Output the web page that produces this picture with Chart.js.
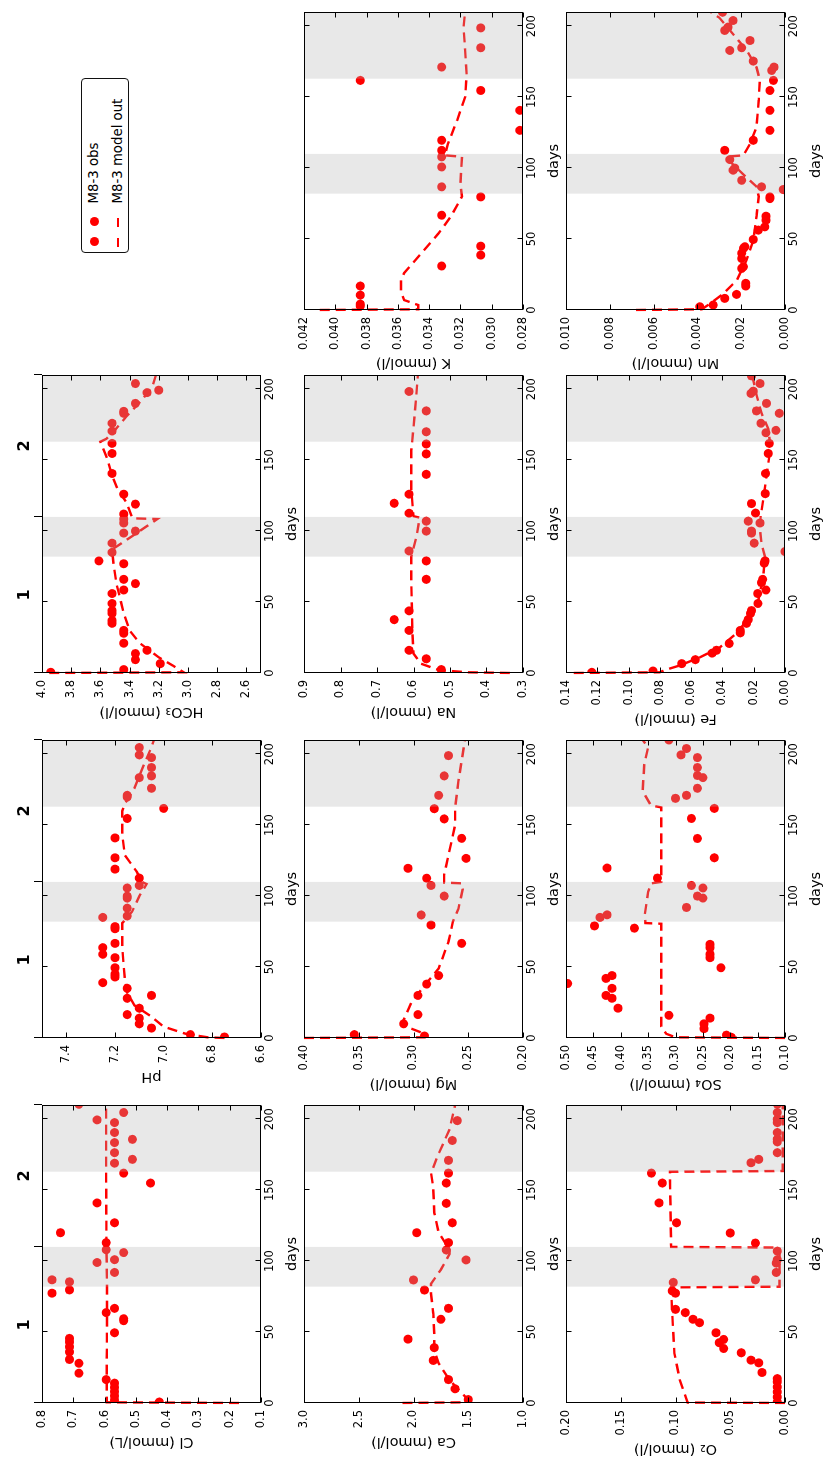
<!DOCTYPE html>
<html>
<head>
<meta charset="utf-8">
<title>M8-3 observations and model output</title>
<script src="https://cdn.jsdelivr.net/npm/chart.js@4.4.1/dist/chart.umd.min.js"></script>
<style>
  html, body { margin: 0; padding: 0; background: #fff; overflow: hidden; }
  /* the figure is laid out landscape and turned a quarter turn to fit the portrait page */
  #page {
    position: absolute; left: 0; top: 0;
    width: 1464px; height: 823px;
    transform-origin: 0 0;
    transform: translateY(1464px) rotate(-90deg);
    background: #fff;
  }
  #page canvas { position: absolute; }
  #legend {
    position: absolute; left: 1211px; top: 81px;
    width: 175px; height: 48px; box-sizing: border-box;
    border: 1px solid #111; border-radius: 4px; background: #fff;
    font-family: 'DejaVu Sans', sans-serif; font-size: 13.3px; color: #000;
  }
  #legend .dot { position: absolute; width: 9px; height: 9px; border-radius: 50%; background: #ff0000; }
  #legend .dash { position: absolute; width: 9px; height: 2.4px; background: #ff0000; }
  #legend .lbl { position: absolute; left: 48.5px; height: 16px; line-height: 16px; white-space: nowrap; }
</style>
</head>
<body>
<div id="page">
  <div id="legend">
    <span class="dot" style="left:5.5px; top:7.9px"></span>
    <span class="dot" style="left:25.5px; top:7.9px"></span>
    <span class="lbl" style="top:4.4px">M8-3 obs</span>
    <span class="dash" style="left:5px; top:35px"></span>
    <span class="dash" style="left:25px; top:35px"></span>
    <span class="lbl" style="top:28px">M8-3 model out</span>
  </div>
</div>
<script>
// ---------- shared time axis ----------
const dayTicks = ['0', '50', '100', '150', '200'];
const dayRange = [0, 210];
const bandStart = [82, 163];
const bandEnd = [110, 210];
const stageEdges = [0, 110, 210];
const stageMid = [55, 160];
const stageNames = ['1', '2'];

// ---------- Cl ----------
const clTicks = ['0.1', '0.2', '0.3', '0.4', '0.5', '0.6', '0.7', '0.8'];
const clRange = [0.1, 0.8];
const clObsDay = [0.7, 2, 5, 8, 11, 14, 16.5, 21, 28, 30.7, 36, 39.6, 43, 45.5, 49.5, 58, 59.4, 63.7, 66.7, 77.4, 79.7, 85.4, 86.8, 92, 99, 101, 106, 108, 113, 120, 127, 141, 155, 162, 169, 171.7, 176.4, 183.5, 185.8, 190.6, 197.6, 199.5, 204.7, 210.5];
const clObsVal = [0.425, 0.568, 0.568, 0.568, 0.568, 0.568, 0.595, 0.682, 0.682, 0.712, 0.712, 0.712, 0.712, 0.712, 0.568, 0.539, 0.539, 0.595, 0.568, 0.768, 0.712, 0.712, 0.768, 0.568, 0.624, 0.568, 0.539, 0.595, 0.595, 0.741, 0.568, 0.624, 0.453, 0.539, 0.568, 0.511, 0.568, 0.568, 0.511, 0.568, 0.568, 0.624, 0.539, 0.682];
const clModDay = [0, 0.5, 20, 80, 110, 160, 210];
const clModVal = [0.17, 0.593, 0.593, 0.592, 0.594, 0.595, 0.595];

// ---------- pH ----------
const phTicks = ['6.6', '6.8', '7.0', '7.2', '7.4'];
const phRange = [6.6, 7.5];
const phObsDay = [0.7, 2.4, 7, 10, 14, 16.5, 21, 28, 30, 35, 39, 43, 45, 49.5, 56.6, 59, 63.7, 66.7, 77, 78.5, 85, 86, 91.5, 98.6, 100, 105.7, 107.5, 112.7, 119, 127, 141, 154.7, 161.8, 169.8, 171, 176, 183.5, 184.7, 190.6, 197.6, 199.5, 204.7];
const phObsVal = [6.75, 6.89, 7.05, 7.10, 7.10, 7.15, 7.10, 7.15, 7.05, 7.15, 7.25, 7.20, 7.20, 7.20, 7.20, 7.25, 7.25, 7.20, 7.20, 7.20, 7.25, 7.15, 7.15, 7.15, 7.15, 7.15, 7.10, 7.10, 7.20, 7.20, 7.20, 7.15, 7.00, 7.15, 7.15, 7.05, 7.10, 7.05, 7.05, 7.05, 7.10, 7.10];
const phModDay = [0, 0.5, 3, 8, 15, 23, 32, 42, 63, 81, 89, 100, 108.5, 110, 117, 129, 143, 160, 165, 176, 193, 205, 210];
const phModVal = [6.75, 6.82, 6.91, 7.00, 7.05, 7.12, 7.15, 7.16, 7.17, 7.17, 7.13, 7.10, 7.07, 7.09, 7.11, 7.16, 7.17, 7.17, 7.16, 7.12, 7.08, 7.05, 7.04];

// ---------- HCO3 ----------
const hco3Ticks = ['2.6', '2.8', '3.0', '3.2', '3.4', '3.6', '3.8', '4.0'];
const hco3Range = [2.5, 4.0];
const hco3ObsDay = [0.5, 2.4, 6.6, 9.4, 13.7, 16, 21, 28, 30, 35, 37, 42, 44, 49, 56, 58.5, 63, 66, 77, 79, 85, 91.5, 98.6, 100, 105.7, 108.5, 112, 119, 126, 140.6, 154.7, 161.8, 170.5, 176, 183, 184.4, 190, 197.6, 199.3, 204];
const hco3ObsVal = [3.94, 3.44, 3.19, 3.36, 3.36, 3.28, 3.44, 3.44, 3.44, 3.52, 3.52, 3.52, 3.52, 3.52, 3.52, 3.44, 3.36, 3.44, 3.44, 3.61, 3.52, 3.52, 3.44, 3.36, 3.44, 3.44, 3.44, 3.36, 3.44, 3.52, 3.52, 3.52, 3.52, 3.52, 3.44, 3.44, 3.36, 3.28, 3.20, 3.36];
const hco3ModDay = [0, 0.5, 5, 11, 21, 30, 42, 63, 77, 87, 98, 108.5, 109, 120, 129, 139, 150, 163, 165, 170, 181, 193, 203, 210];
const hco3ModVal = [3.95, 3.03, 3.10, 3.20, 3.33, 3.40, 3.44, 3.49, 3.51, 3.52, 3.36, 3.21, 3.38, 3.42, 3.48, 3.52, 3.55, 3.60, 3.56, 3.51, 3.42, 3.31, 3.24, 3.22];

// ---------- Ca ----------
const caTicks = ['1.0', '1.5', '2.0', '2.5', '3.0'];
const caRange = [1.0, 3.0];
const caObsDay = [2.4, 10, 16.5, 30, 39, 45, 59, 66.7, 79.6, 86.7, 100.8, 107.8, 113, 120, 127, 140.7, 155, 162, 171, 185, 199];
const caObsVal = [1.50, 1.62, 1.68, 1.82, 1.81, 2.05, 1.75, 1.68, 1.90, 2.00, 1.52, 1.70, 1.68, 1.97, 1.645, 1.70, 1.70, 1.68, 1.68, 1.645, 1.60];
const caModDay = [0, 0.5, 2, 8, 16, 28, 37, 49, 63, 77, 84, 94, 105, 108, 120, 134, 152, 162, 174, 193, 210];
const caModVal = [2.10, 1.52, 1.50, 1.57, 1.67, 1.77, 1.81, 1.81, 1.82, 1.84, 1.84, 1.75, 1.67, 1.67, 1.77, 1.81, 1.82, 1.84, 1.78, 1.67, 1.62];

// ---------- Mg ----------
const mgTicks = ['0.20', '0.25', '0.30', '0.35', '0.40'];
const mgRange = [0.20, 0.40];
const mgObsDay = [1.4, 2.4, 10, 16.5, 30, 38, 44, 66.7, 79.6, 86.7, 100, 107.5, 112.6, 119.6, 126.6, 140.7, 154.4, 161.6, 171, 184.7, 199];
const mgObsVal = [0.290, 0.354, 0.309, 0.296, 0.296, 0.288, 0.277, 0.256, 0.284, 0.293, 0.272, 0.284, 0.288, 0.305, 0.252, 0.256, 0.272, 0.281, 0.277, 0.272, 0.268];
const mgModDay = [0, 0.5, 3, 6.6, 11, 25, 37, 49, 68, 82, 91, 105, 109, 109.5, 115, 129, 150, 162, 181, 210];
const mgModVal = [0.400, 0.290, 0.290, 0.302, 0.310, 0.302, 0.290, 0.277, 0.268, 0.264, 0.259, 0.255, 0.256, 0.272, 0.272, 0.268, 0.262, 0.262, 0.259, 0.253];

// ---------- Na ----------
const naTicks = ['0.3', '0.4', '0.5', '0.6', '0.7', '0.8', '0.9'];
const naRange = [0.3, 0.9];
const naObsDay = [2.4, 10, 16, 30, 37.6, 43.8, 66, 79, 86, 100, 107, 112.6, 119.6, 126, 140, 154.4, 161.4, 170, 184.7, 198.4];
const naObsVal = [0.524, 0.565, 0.612, 0.612, 0.653, 0.612, 0.565, 0.565, 0.612, 0.565, 0.565, 0.612, 0.653, 0.612, 0.565, 0.565, 0.565, 0.565, 0.565, 0.612];
const naModDay = [0, 0.5, 2, 6.6, 13.7, 28, 63, 82, 96, 109.5, 110.5, 129, 157, 181, 210];
const naModVal = [0.336, 0.45, 0.53, 0.58, 0.600, 0.603, 0.606, 0.606, 0.592, 0.583, 0.600, 0.606, 0.606, 0.597, 0.588];

// ---------- K ----------
const kTicks = ['0.028', '0.030', '0.032', '0.034', '0.036', '0.038', '0.040', '0.042'];
const kRange = [0.028, 0.042];
const kObsDay = [2.8, 4.2, 10.5, 16.9, 31, 38.7, 45, 66.8, 79.7, 86.8, 100.8, 107.9, 112.5, 119.6, 126.6, 140.7, 154.7, 161.8, 171.2, 184.8, 198.8];
const kObsVal = [0.0384, 0.0384, 0.0384, 0.0384, 0.0332, 0.0307, 0.0307, 0.0332, 0.0307, 0.0332, 0.0332, 0.0332, 0.0332, 0.0332, 0.0282, 0.0282, 0.0307, 0.0384, 0.0332, 0.0307, 0.0307];
const kModDay = [0, 0.5, 3.5, 7, 13, 21, 26, 40, 54, 66, 80, 89, 108, 109, 117, 134, 150, 166, 183, 199, 210];
const kModVal = [0.0410, 0.0347, 0.0347, 0.0356, 0.0358, 0.0358, 0.0356, 0.0345, 0.0334, 0.0326, 0.0319, 0.0320, 0.0319, 0.0330, 0.0328, 0.0322, 0.0317, 0.0316, 0.0317, 0.0318, 0.0317];

// ---------- O2 ----------
const o2Ticks = ['0.00', '0.05', '0.10', '0.15', '0.20'];
const o2Range = [0, 0.20];
const o2ObsDay = [0.7, 4.2, 7.8, 11.3, 14.9, 17.2, 21.5, 28.3, 30.2, 35.4, 38.4, 42.5, 44.8, 49.5, 56.6, 59, 63.7, 66, 77.4, 79, 85, 86.8, 92, 98.6, 101, 107, 112.7, 119.8, 127, 141, 155, 162, 169.3, 171.7, 176.4, 184, 186, 190.6, 197.6, 200, 204.7, 210.5];
const o2ObsVal = [0.007, 0.007, 0.007, 0.007, 0.007, 0.007, 0.021, 0.024, 0.031, 0.040, 0.056, 0.060, 0.056, 0.063, 0.078, 0.084, 0.091, 0.100, 0.100, 0.103, 0.102, 0.027, 0.008, 0.008, 0.007, 0.007, 0.027, 0.050, 0.099, 0.115, 0.112, 0.122, 0.031, 0.024, 0.007, 0.007, 0.007, 0.007, 0.007, 0.007, 0.007, 0.007];
const o2ModDay = [0, 0.3, 16, 35, 63, 81.5, 82, 109.5, 110, 157, 163, 163.5, 210];
const o2ModVal = [0, 0.089, 0.096, 0.101, 0.103, 0.104, 0.005, 0.005, 0.104, 0.105, 0.105, 0.002, 0.002];

// ---------- SO4 ----------
const so4Ticks = ['0.10', '0.15', '0.20', '0.25', '0.30', '0.35', '0.40', '0.45', '0.50'];
const so4Range = [0.10, 0.50];
const so4ObsDay = [0.5, 2, 6.6, 10, 14, 16, 21, 28, 30, 35, 38.4, 42, 44, 49.5, 56.6, 59, 63.7, 66, 77.4, 79, 85, 86.8, 92, 98.6, 100, 105.7, 107.5, 112.7, 119.8, 127, 140.6, 154.7, 161.8, 168.9, 171, 176, 183.5, 185, 190.6, 197.6, 199.5, 204, 210];
const so4ObsVal = [0.198, 0.207, 0.248, 0.248, 0.237, 0.312, 0.405, 0.416, 0.427, 0.416, 0.497, 0.427, 0.416, 0.217, 0.237, 0.237, 0.237, 0.237, 0.375, 0.448, 0.438, 0.425, 0.280, 0.250, 0.260, 0.250, 0.271, 0.333, 0.425, 0.229, 0.260, 0.271, 0.229, 0.300, 0.280, 0.260, 0.250, 0.260, 0.260, 0.260, 0.290, 0.280, 0.312];
const so4ModDay = [0, 0.5, 3, 8, 25, 63, 80.5, 81, 87, 103, 109, 110, 157, 162.5, 164, 174, 193, 205, 210];
const so4ModVal = [0.100, 0.300, 0.317, 0.326, 0.326, 0.326, 0.326, 0.355, 0.356, 0.350, 0.344, 0.326, 0.326, 0.326, 0.345, 0.360, 0.357, 0.350, 0.360];

// ---------- Fe ----------
const feTicks = ['0.00', '0.02', '0.04', '0.06', '0.08', '0.10', '0.12', '0.14'];
const feRange = [0, 0.14];
const feObsDay = [0.5, 1.4, 6.6, 9.4, 14, 16, 20.8, 28.3, 30, 35, 37.7, 42, 44, 49, 56, 58.5, 63.7, 66, 77.4, 79, 85.6, 91.5, 98.6, 100, 105.7, 107, 112.7, 119.4, 126.4, 140.6, 154.7, 161.8, 169.3, 171, 176, 183, 184.7, 190, 197, 198.6, 204, 209.4];
const feObsVal = [0.1235, 0.0844, 0.0660, 0.0573, 0.0466, 0.0438, 0.0357, 0.0286, 0.0286, 0.0246, 0.0235, 0.0220, 0.0214, 0.0173, 0.0175, 0.0122, 0.0150, 0.0143, 0.0133, 0.0128, 0.0000, 0.0197, 0.0214, 0.0214, 0.0160, 0.0235, 0.0188, 0.0214, 0.0126, 0.0124, 0.0107, 0.0100, 0.0122, 0.0058, 0.0154, 0.0036, 0.0182, 0.0118, 0.0218, 0.0203, 0.0160, 0.0214];
const feModDay = [0, 0.5, 2, 5.4, 11, 18, 28, 40, 51, 68, 82, 91, 101, 110, 122, 139, 153, 162, 172, 183, 195, 210];
const feModVal = [0.135, 0.080, 0.077, 0.067, 0.0545, 0.0417, 0.0310, 0.0224, 0.0171, 0.0139, 0.0128, 0.0150, 0.0160, 0.0156, 0.0139, 0.0118, 0.0100, 0.0096, 0.0107, 0.0150, 0.0180, 0.0210];

// ---------- Mn ----------
const mnTicks = ['0.000', '0.002', '0.004', '0.006', '0.008', '0.010'];
const mnRange = [0, 0.010];
const mnObsDay = [2.3, 3.5, 8.2, 11, 16.9, 18.8, 29.3, 30.5, 36.3, 40, 43.4, 44.6, 49.7, 56.3, 58.6, 63.3, 66.1, 78.5, 79.7, 84.9, 86.8, 91.4, 98.5, 100, 106, 112.5, 119.6, 126.6, 140.7, 154.7, 161.8, 168.8, 171.2, 175.4, 182.9, 184.8, 189.9, 197, 199.4, 204, 209.8];
const mnObsVal = [0.00389, 0.00328, 0.00275, 0.00221, 0.00179, 0.00179, 0.00198, 0.00190, 0.00198, 0.00198, 0.00190, 0.00183, 0.00145, 0.00122, 0.00092, 0.00087, 0.00087, 0.00069, 0.00069, 0.00008, 0.00107, 0.00198, 0.00237, 0.00229, 0.00252, 0.00275, 0.00145, 0.00069, 0.00069, 0.00069, 0.00053, 0.00061, 0.00050, 0.00145, 0.00252, 0.00198, 0.00160, 0.00275, 0.00260, 0.00237, 0.00285];
const mnModDay = [0, 0.5, 4.7, 11.7, 21, 35, 49, 66, 80, 87, 94, 103, 108, 109, 117, 129, 148, 162, 171, 183, 195, 206, 210];
const mnModVal = [0.0068, 0.0038, 0.0034, 0.0028, 0.0022, 0.00176, 0.00145, 0.0013, 0.0012, 0.0013, 0.0018, 0.0024, 0.0027, 0.0019, 0.0016, 0.0013, 0.0012, 0.00115, 0.0013, 0.00175, 0.0024, 0.0030, 0.0034];

// ---------- grid of panels ----------
const panels = [
  { title: 'Cl (mmol/L)',   row: 0, col: 0, range: clRange,   ticks: clTicks,   obsDay: clObsDay,   obsVal: clObsVal,   modDay: clModDay,   modVal: clModVal },
  { title: 'pH',            row: 0, col: 1, range: phRange,   ticks: phTicks,   obsDay: phObsDay,   obsVal: phObsVal,   modDay: phModDay,   modVal: phModVal },
  { title: 'HCO\u2083 (mmol/l)', row: 0, col: 2, range: hco3Range, ticks: hco3Ticks, obsDay: hco3ObsDay, obsVal: hco3ObsVal, modDay: hco3ModDay, modVal: hco3ModVal },
  { title: 'Ca (mmol/l)',   row: 1, col: 0, range: caRange,   ticks: caTicks,   obsDay: caObsDay,   obsVal: caObsVal,   modDay: caModDay,   modVal: caModVal },
  { title: 'Mg (mmol/l)',   row: 1, col: 1, range: mgRange,   ticks: mgTicks,   obsDay: mgObsDay,   obsVal: mgObsVal,   modDay: mgModDay,   modVal: mgModVal },
  { title: 'Na (mmol/l)',   row: 1, col: 2, range: naRange,   ticks: naTicks,   obsDay: naObsDay,   obsVal: naObsVal,   modDay: naModDay,   modVal: naModVal },
  { title: 'K (mmol/l)',    row: 1, col: 3, range: kRange,    ticks: kTicks,    obsDay: kObsDay,    obsVal: kObsVal,    modDay: kModDay,    modVal: kModVal },
  { title: 'O\u2082 (mmol/l)',   row: 2, col: 0, range: o2Range,   ticks: o2Ticks,   obsDay: o2ObsDay,   obsVal: o2ObsVal,   modDay: o2ModDay,   modVal: o2ModVal },
  { title: 'SO\u2084 (mmol/l)',  row: 2, col: 1, range: so4Range,  ticks: so4Ticks,  obsDay: so4ObsDay,  obsVal: so4ObsVal,  modDay: so4ModDay,  modVal: so4ModVal },
  { title: 'Fe (mmol/l)',   row: 2, col: 2, range: feRange,   ticks: feTicks,   obsDay: feObsDay,   obsVal: feObsVal,   modDay: feModDay,   modVal: feModVal },
  { title: 'Mn (mmol/l)',   row: 2, col: 3, range: mnRange,   ticks: mnTicks,   obsDay: mnObsDay,   obsVal: mnObsVal,   modDay: mnModDay,   modVal: mnModVal }
];

// ---------- geometry and styling ----------
const colLeft = [61, 426, 791, 1154];
const rowTop = [42, 304, 566];
const plotW = 298, plotH = 219;
const marginL = 60, marginT = 42, marginR = 6, marginB = 44;
const FONT = "'DejaVu Sans', sans-serif";
const tickFont = 11.5, titleFont = 14.5;
const yTickPad = 7, yTitleGap = 13, innerTick = 5;
const RED = '#ff0000';

Chart.defaults.font.family = FONT;
Chart.defaults.color = '#000';

const toPoints = (xs, ys) => xs.map((x, i) => ({ x: x, y: ys[i] }));

// shaded periods over the data, then frame, inward ticks and value-axis title
const framePlugin = {
  id: 'frame',
  afterDatasetsDraw(chart) {
    const { ctx, chartArea: a } = chart;
    const xs = chart.scales.x;
    ctx.save();
    ctx.beginPath();
    ctx.rect(a.left, a.top, a.right - a.left, a.bottom - a.top);
    ctx.clip();
    ctx.fillStyle = 'rgba(180,180,180,0.3)';
    bandStart.forEach((s, i) => {
      const x0 = xs.getPixelForValue(s), x1 = xs.getPixelForValue(bandEnd[i]);
      ctx.fillRect(x0, a.top, x1 - x0, a.bottom - a.top);
    });
    ctx.restore();
  },
  afterDraw(chart, args, opts) {
    const { ctx, chartArea: a } = chart;
    const xs = chart.scales.x, ys = chart.scales.y;
    const L = Math.round(a.left) + 0.5, R = Math.round(a.right) - 0.5;
    const T = Math.round(a.top) + 0.5, B = Math.round(a.bottom) - 0.5;
    ctx.save();
    ctx.strokeStyle = '#000';
    ctx.lineWidth = 1;
    ctx.beginPath();
    xs.ticks.forEach(t => {
      const px = Math.round(xs.getPixelForValue(t.value)) + 0.5;
      ctx.moveTo(px, B); ctx.lineTo(px, B - innerTick);
      ctx.moveTo(px, T); ctx.lineTo(px, T + innerTick);
    });
    ys.ticks.forEach(t => {
      const py = Math.round(ys.getPixelForValue(t.value)) + 0.5;
      ctx.moveTo(L, py); ctx.lineTo(L + innerTick, py);
      ctx.moveTo(R, py); ctx.lineTo(R - innerTick, py);
    });
    ctx.stroke();
    ctx.strokeRect(L, T, R - L, B - T);

    ctx.font = tickFont + 'px ' + FONT;
    let widest = 0;
    ys.ticks.forEach(t => { widest = Math.max(widest, ctx.measureText(String(t.label)).width); });
    ctx.font = titleFont + 'px ' + FONT;
    ctx.fillStyle = '#000';
    ctx.textAlign = 'center';
    ctx.textBaseline = 'middle';
    ctx.translate(a.left - yTickPad - widest - yTitleGap, (a.top + a.bottom) / 2);
    ctx.rotate(-Math.PI / 2);
    ctx.fillText(opts.title, 0, 0);
    ctx.restore();
  }
};

const page = document.getElementById('page');

panels.forEach(p => {
  const w = marginL + plotW + marginR, h = marginT + plotH + marginB;
  const cv = document.createElement('canvas');
  cv.width = w; cv.height = h;
  cv.style.width = w + 'px'; cv.style.height = h + 'px';
  cv.style.left = (colLeft[p.col] - marginL) + 'px';
  cv.style.top = (rowTop[p.row] - marginT) + 'px';
  page.appendChild(cv);

  const withStages = p.row === 0;

  const scales = {
    x: {
      type: 'linear', position: 'bottom', min: dayRange[0], max: dayRange[1],
      afterBuildTicks: s => { s.ticks = dayTicks.map(t => ({ value: Number(t) })); },
      afterFit: s => { s.height = marginB; },
      ticks: {
        autoSkip: false, maxRotation: 0, minRotation: 0, padding: 2,
        font: { size: tickFont }, color: '#000',
        callback: (v, i) => dayTicks[i]
      },
      grid: { display: false, drawTicks: false },
      border: { display: false },
      title: { display: true, text: 'days', font: { size: titleFont }, color: '#000', padding: { top: 0, bottom: 4 } }
    },
    y: {
      type: 'linear', position: 'left', min: p.range[0], max: p.range[1],
      afterBuildTicks: s => { s.ticks = p.ticks.map(t => ({ value: Number(t) })); },
      afterFit: s => { s.width = marginL; },
      ticks: {
        autoSkip: false, padding: yTickPad,
        font: { size: tickFont }, color: '#000',
        callback: (v, i) => p.ticks[i]
      },
      grid: { display: false, drawTicks: false },
      border: { display: false }
    }
  };

  if (withStages) {
    const stageTicks = stageEdges.concat(stageMid).sort((a, b) => a - b);
    scales.stage = {
      type: 'linear', position: 'top', min: dayRange[0], max: dayRange[1],
      afterBuildTicks: s => { s.ticks = stageTicks.map(v => ({ value: v })); },
      afterFit: s => { s.height = marginT; },
      ticks: {
        autoSkip: false, maxRotation: 0, minRotation: 0, padding: 0,
        font: { size: 16, weight: 'bold' }, color: '#000',
        callback: v => { const i = stageMid.indexOf(v); return i >= 0 ? stageNames[i] : ''; }
      },
      grid: {
        display: true, drawOnChartArea: false, drawTicks: true, tickLength: 8, lineWidth: 1,
        color: c => (c.tick && stageEdges.includes(c.tick.value)) ? '#000' : 'rgba(0,0,0,0)'
      },
      border: { display: false }
    };
  }

  new Chart(cv, {
    type: 'scatter',
    data: {
      datasets: [
        {
          label: 'M8-3 obs',
          data: toPoints(p.obsDay, p.obsVal),
          xAxisID: 'x', yAxisID: 'y',
          showLine: false,
          pointRadius: 4.5, pointHoverRadius: 4.5,
          pointBackgroundColor: RED, backgroundColor: RED,
          pointBorderWidth: 0, borderWidth: 0,
          clip: 0
        },
        {
          label: 'M8-3 model out',
          data: toPoints(p.modDay, p.modVal),
          xAxisID: 'x', yAxisID: 'y',
          showLine: true,
          pointRadius: 0, pointHoverRadius: 0,
          borderColor: RED, borderWidth: 2.4, borderDash: [10, 6],
          tension: 0, fill: false,
          clip: { left: 1.5, top: 0, right: 0, bottom: 0 }
        }
      ]
    },
    options: {
      responsive: false, animation: false, devicePixelRatio: 1, events: [],
      layout: { padding: { left: 0, right: marginR, top: withStages ? 0 : marginT, bottom: 0 } },
      plugins: { legend: { display: false }, tooltip: { enabled: false }, frame: { title: p.title } },
      scales: scales
    },
    plugins: [framePlugin]
  });
});
</script>
</body>
</html>
